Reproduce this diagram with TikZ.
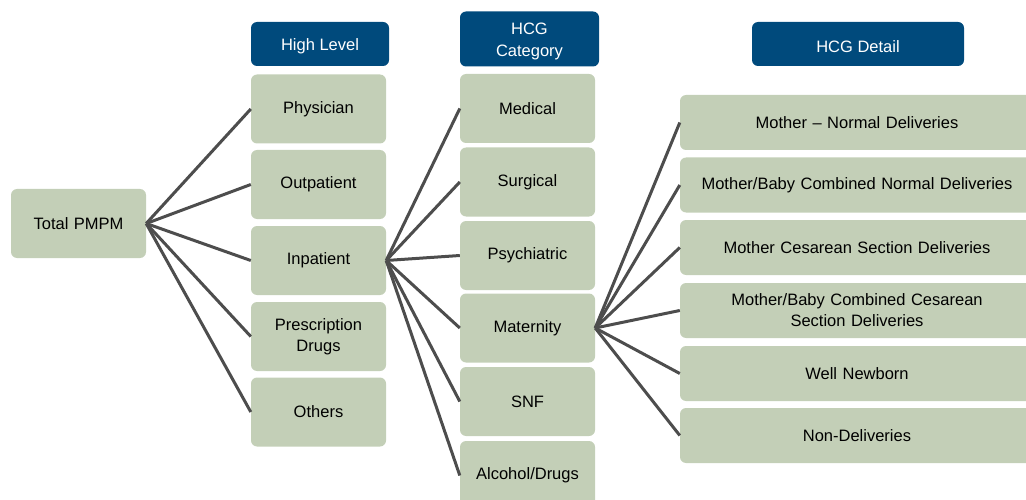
\documentclass[tikz,border=0pt]{standalone}
\usepackage{fontspec}
\setmainfont{Liberation Sans}
\definecolor{boxgreen}{HTML}{C3CFB7}
\definecolor{hdrblue}{HTML}{004A7C}
\definecolor{linegray}{HTML}{4D4D4D}
\begin{document}
\begin{tikzpicture}[x=1pt,y=-1pt,
  font=\fontsize{16.5}{21}\selectfont,
  gbox/.style={fill=boxgreen, rounded corners=6pt, inner sep=0pt, align=center, text=black},
  c1box/.style={gbox, minimum width=135pt, minimum height=69pt, text width=125pt},
  c3box/.style={gbox, minimum width=354pt, minimum height=55pt, text width=340pt},
  hdr/.style={fill=hdrblue, rounded corners=6pt, inner sep=0pt},
  hdrtext/.style={label={[text=white, align=center, yshift=-2.5pt, font=\fontsize{16.5}{22.5}\selectfont]center:#1}},
  conn/.style={draw=linegray, line width=3pt}]
\useasboundingbox (0,0) rectangle (1026,500);
\clip (0,0) rectangle (1026,500);
% headers
\node[hdr, minimum width=138pt, minimum height=44pt, hdrtext={High Level}] (h1) at (320,44) {};
\node[hdr, minimum width=139pt, minimum height=55pt, hdrtext={HCG\\Category}] (h2) at (529.5,39) {};
\node[hdr, minimum width=212pt, minimum height=44pt, hdrtext={HCG Detail}] (h3) at (858,44) {};
% root
\node[c1box] (tot) at (78.5,223.5) {Total PMPM};
% column 1
\node[c1box] (phy) at (318.5,109) {Physician};
\node[c1box] (out) at (318.5,184.5) {Outpatient};
\node[c1box] (inp) at (318.5,260.5) {Inpatient};
\node[c1box] (pre) at (318.5,336.5) {Prescription\\Drugs};
\node[c1box] (oth) at (318.5,412) {Others};
% column 2
\node[c1box] (med) at (527.5,108.5) {Medical};
\node[c1box] (sur) at (527.5,182) {Surgical};
\node[c1box] (psy) at (527.5,255.5) {Psychiatric};
\node[c1box] (mat) at (527.5,328) {Maternity};
\node[c1box] (snf) at (527.5,401.5) {SNF};
\node[c1box] (alc) at (527.5,475.5) {Alcohol/Drugs};
% column 3
\node[c3box] (d1) at (857,122.5) {Mother -- Normal Deliveries};
\node[c3box] (d2) at (857,185) {Mother/Baby Combined Normal Deliveries};
\node[c3box] (d3) at (857,247.5) {Mother Cesarean Section Deliveries};
\node[c3box] (d4) at (857,310.5) {Mother/Baby Combined Cesarean\\Section Deliveries};
\node[c3box] (d5) at (857,373.5) {Well Newborn};
\node[c3box] (d6) at (857,435.5) {Non-Deliveries};
% connectors
\foreach \t in {phy,out,inp,pre,oth} \draw[conn] (tot.east) -- (\t.west);
\foreach \t in {med,sur,psy,mat,snf,alc} \draw[conn] (inp.east) -- (\t.west);
\foreach \t in {d1,d2,d3,d4,d5,d6} \draw[conn] (mat.east) -- (\t.west);
\end{tikzpicture}
\end{document}
